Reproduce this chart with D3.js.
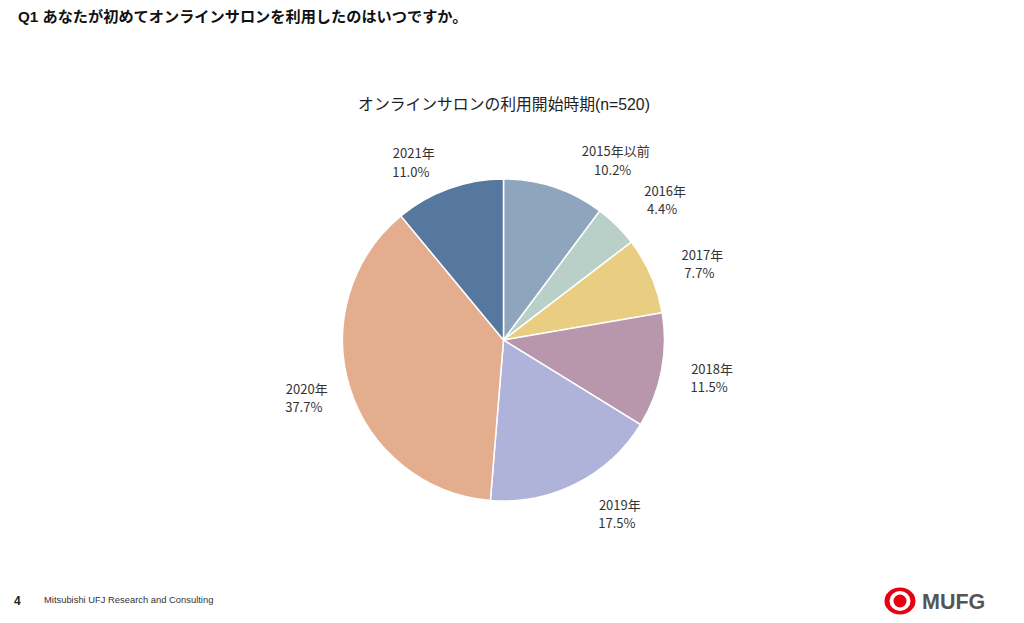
<!DOCTYPE html>
<html><head><meta charset="utf-8">
<script src="https://cdn.jsdelivr.net/npm/d3@7/dist/d3.min.js"></script>
<style>
body{margin:0;background:#fff;}
svg{display:block;font-family:"Noto Sans CJK JP","Liberation Sans",sans-serif;}
</style></head>
<body>
<svg id="chart" width="1024" height="623"></svg>
<script>
const categories = ["2015年以前","2016年","2017年","2018年","2019年","2020年","2021年"];
const values = [10.2, 4.4, 7.7, 11.5, 17.5, 37.7, 11.0];
const colors = ["#8ea5bd","#b8d0c8","#e9cd80","#b896ab","#b0b3d9","#e4ad8e","#56789e"];
// label placement tweaks (styling, not data)
const labelAngleNudge = [13.6, 4.4, 2.6, -0.7, -7, 1.1, -7];
const labelRadius = [212, 214, 213, 212, 209, 205, 199];

const svg = d3.select("#chart");
svg.append("rect").attr("width",1024).attr("height",623).attr("fill","#fff");

svg.append("text").attr("x",18).attr("y",22)
  .attr("font-size",15.2).attr("font-weight","bold").attr("fill","#111")
  .attr("font-family","'Liberation Sans','Noto Sans CJK JP',sans-serif")
  .text("Q1 あなたが初めてオンラインサロンを利用したのはいつですか。");

svg.append("text").attr("x",504).attr("y",110).attr("text-anchor","middle")
  .attr("font-size",15.8).attr("fill","#222")
  .attr("font-family","'Liberation Sans','Noto Sans CJK JP',sans-serif")
  .text("オンラインサロンの利用開始時期(n=520)");

const cx = 503.5, cy = 340, r = 161;
const g = svg.append("g").attr("transform",`translate(${cx},${cy})`);
const pie = d3.pie().sort(null).value(d=>d)(values);
const arc = d3.arc().innerRadius(0).outerRadius(r);
g.selectAll("path").data(pie).join("path")
  .attr("d",arc).attr("fill",(d,i)=>colors[i])
  .attr("stroke","#fff").attr("stroke-width",1.5);

const lab = g.selectAll("g.lab").data(pie).join("g").attr("class","lab")
  .attr("transform",(d,i)=>{
    const a = (d.startAngle+d.endAngle)/2 + labelAngleNudge[i]*Math.PI/180;
    const R = labelRadius[i];
    return `translate(${R*Math.sin(a)},${-R*Math.cos(a)})`;
  });
lab.append("text").attr("text-anchor","middle").attr("y",-4)
  .attr("font-size",13).attr("fill","#333")
  .text((d,i)=>categories[i]);
lab.append("text").attr("text-anchor","middle").attr("y",14.5).attr("dx",-3)
  .attr("font-size",13).attr("fill","#333")
  .text(d=>d.value.toFixed(1)+"%");

// footer
svg.append("text").attr("x",14).attr("y",605).attr("font-size",12).attr("font-weight","bold")
  .attr("fill","#222").attr("font-family","'Liberation Sans',sans-serif").text("4");
svg.append("text").attr("x",44).attr("y",603).attr("font-size",9.4)
  .attr("fill","#333").attr("font-family","'Liberation Sans',sans-serif")
  .text("Mitsubishi UFJ Research and Consulting");

// MUFG logo
const logo = svg.append("g").attr("transform","translate(900,601)");
logo.append("ellipse").attr("rx",15.5).attr("ry",13.5).attr("fill","#e60012");
logo.append("ellipse").attr("rx",10.5).attr("ry",10).attr("fill","#fff");
logo.append("circle").attr("r",6.5).attr("fill","#e60012");
svg.append("text").attr("x",922).attr("y",609).attr("font-size",21.5).attr("font-weight","bold")
  .attr("fill","#555").attr("font-family","'Liberation Sans',sans-serif").text("MUFG");
</script>
</body></html>
